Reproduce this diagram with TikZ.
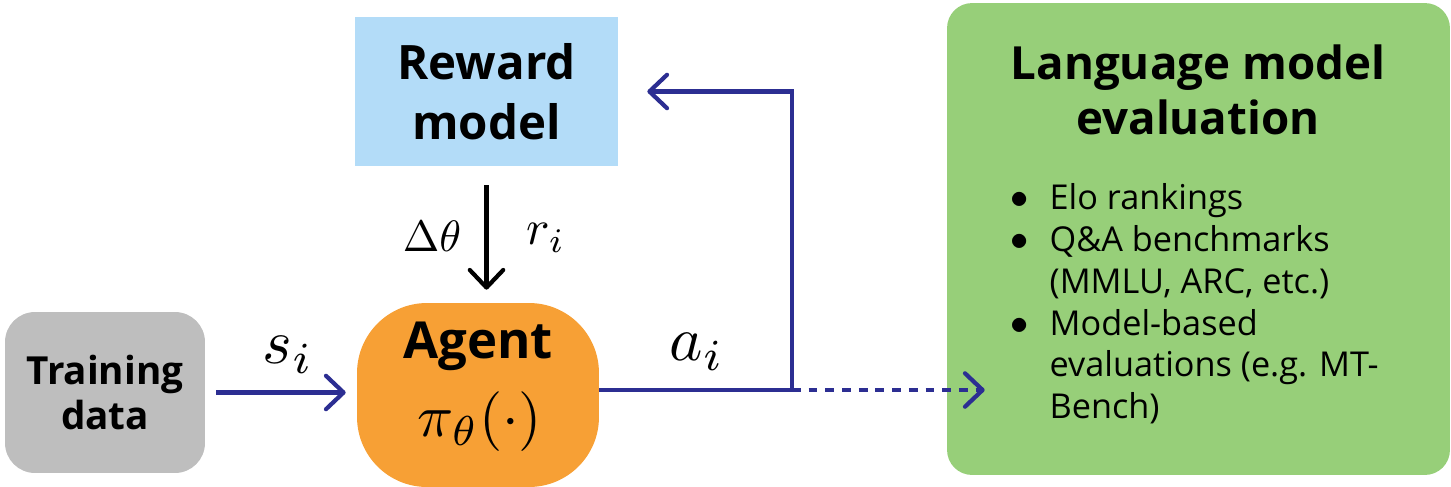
\documentclass[tikz,border=0pt]{standalone}
\usepackage{fontspec}
\setmainfont{Open Sans}
\usetikzlibrary{arrows.meta,positioning}
\definecolor{datagray}{RGB}{190,190,190}
\definecolor{agentorange}{RGB}{247,160,53}
\definecolor{rewardblue}{RGB}{179,220,248}
\definecolor{evalgreen}{RGB}{151,207,121}
\definecolor{linkblue}{RGB}{44,46,146}
\newcommand{\itemdot}{\raisebox{0.5pt}{$\bullet$}}

\begin{document}
\begin{tikzpicture}[x=0.02cm, y=-0.02cm,
    blob/.style={inner sep=0pt, align=center, font=\bfseries},
    flow/.style={draw=linkblue, line width=2.4pt,
      -{Straight Barb[length=10pt, width=19pt, line cap=round, line join=round]}},
    update/.style={draw=black, line width=2.4pt,
      -{Straight Barb[length=10pt, width=19pt, line cap=round, line join=round]}},
    mathlbl/.style={font=\fontsize{10}{12}\selectfont, inner sep=0pt, scale=#1, transform shape}]
  \useasboundingbox (0,0) rectangle (1451,487);
  % Boxes
  \node[blob, fill=datagray, rounded corners=0.6cm, minimum width=4cm, minimum height=3.22cm,
    font=\fontsize{22}{26}\selectfont\bfseries] (train) at (105,392.5) {Training\\data};
  \node[blob, fill=agentorange, rounded corners=1.4cm, minimum width=4.84cm, minimum height=3.68cm]
    (agent) at (478,395) {};
  \node[font=\fontsize{29}{30}\selectfont\bfseries] (agentname) at (478,346) {Agent};
  \node[mathlbl=3.4] (policy) at (480,422) {$\pi_\theta(\cdot)$};
  \node[blob, fill=rewardblue, minimum width=5.26cm, minimum height=2.98cm,
    font=\fontsize{27}{34}\selectfont\bfseries] (reward) at (486.5,91.5) {Reward\\model};
  \node[blob, fill=evalgreen, rounded corners=0.5cm, minimum width=10.06cm, minimum height=9.44cm]
    (eval) at (1198.5,239) {};
  \node[font=\fontsize{26}{31}\selectfont\bfseries, align=center] (evaltitle) at (1198,90)
    {Language model\\evaluation};
  \node[anchor=north west, inner sep=0pt, font=\fontsize{19.5}{23.8}\selectfont] (evallist) at (1010,180)
    {\begin{tabular}{@{}l@{\hspace{12pt}}l@{}}
      \itemdot & Elo rankings\\
      \itemdot & Q\&A benchmarks\\
               & (MMLU, ARC, etc.)\\
      \itemdot & Model-based\\
               & evaluations (e.g. MT-\\
               & Bench)
     \end{tabular}};
  % Connectors
  \coordinate (turn) at (792,390);
  \draw[flow, shorten <=0.22cm, shorten >=0.22cm] (train.east) -- (train.east -| agent.west);
  \node[mathlbl=3.6] (slbl) at (288,355) {$s_i$};
  \draw[update, shorten <=0.38cm, shorten >=0.26cm] (reward.south) -- (reward.south |- agent.north);
  \node[mathlbl=2.5] (dlbl) at (432,236) {$\Delta\theta$};
  \node[mathlbl=2.8] (rlbl) at (546,238) {$r_i$};
  \draw[flow, shorten >=0.58cm] (agent.east |- turn) -- (turn) -- (turn |- reward.east) -- (reward.east);
  \node[mathlbl=3.6] (albl) at (697,352) {$a_i$};
  \draw[flow, dash pattern=on 5pt off 4.5pt] (turn) -- ([xshift=0.76cm]eval.west |- turn);
\end{tikzpicture}
\end{document}
